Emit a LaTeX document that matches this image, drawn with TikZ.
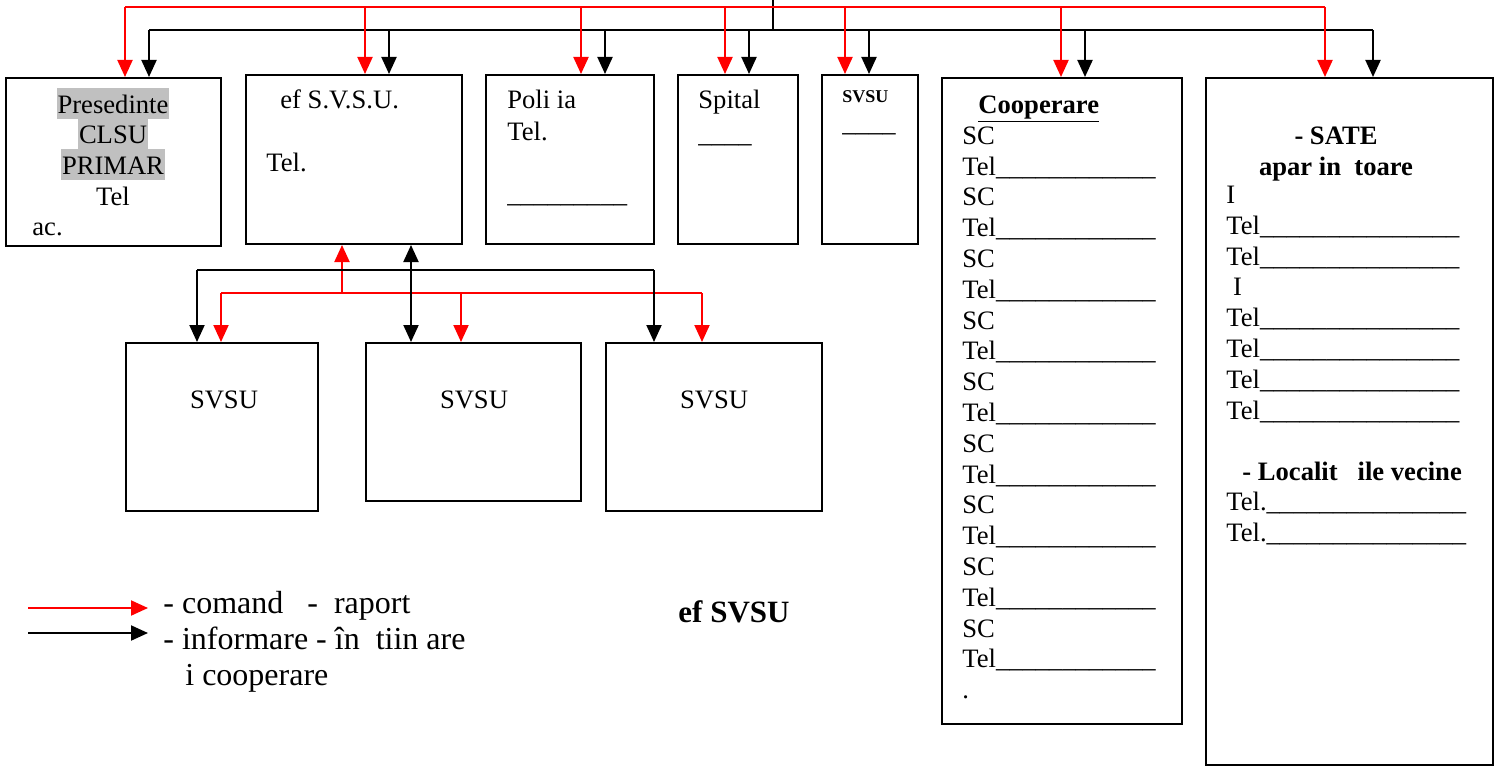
\documentclass[tikz,border=0pt]{standalone}
\usepackage{fontspec}
\setmainfont{Liberation Serif}
\usetikzlibrary{arrows.meta,positioning}
\definecolor{cmdred}{rgb}{1,0,0}
\definecolor{hlgray}{RGB}{192,192,192}

\tikzset{
  box/.style={draw, line width=1pt, inner sep=0pt, anchor=north west},
  wire/.style={line width=1pt},
  cmd/.style={wire, cmdred, -{Triangle[width=7.5pt,length=8.5pt]}},
  inf/.style={wire, black, -{Triangle[width=7.5pt,length=8.5pt]}},
  txt/.style={inner sep=0pt, anchor=base west, align=left, font=\fontsize{13.3}{15.4}\selectfont},
  list/.style={txt, anchor=north west},
  hl/.style={txt, anchor=base, fill=hlgray, inner xsep=0.5pt, text height=12.5pt, text depth=3pt},
}

\begin{document}
\begin{tikzpicture}[x=0.5pt, y=-0.5pt]
  \useasboundingbox (0,0) rectangle (1497,765);
  % top row of boxes
  \node[box, minimum width=107.5pt, minimum height=84pt] (pres) at (5,77) {};
  \node[box, minimum width=108pt, minimum height=84.5pt] (sef) at (245,74) {};
  \node[box, minimum width=84pt, minimum height=84.5pt] (pol) at (485,74) {};
  \node[box, minimum width=60pt, minimum height=84.5pt] (spit) at (677,74) {};
  \node[box, minimum width=48pt, minimum height=84.5pt] (svsu) at (821,74) {};
  \node[box, minimum width=120pt, minimum height=323pt] (coop) at (941,77) {};
  \node[box, minimum width=143.5pt, minimum height=343.5pt] (sate) at (1205,77) {};
  % lower row
  \node[box, minimum width=96pt, minimum height=84pt] (sa) at (125,342) {};
  \node[box, minimum width=107.5pt, minimum height=79pt] (sb) at (365,342) {};
  \node[box, minimum width=108pt, minimum height=84pt] (sc) at (605,342) {};

  % texts in the boxes
  \node[hl] (presa) at (113,113) {Presedinte};
  \node[hl] (presb) at (113,143.7) {CLSU};
  \node[hl] (presc) at (113,174.3) {PRIMAR};
  \node[txt, anchor=base] (presd) at (113,205) {Tel};
  \node[txt] (prese) at (32,235.5) {ac.};
  \node[txt] (sefa) at (280,109) {ef S.V.S.U.};
  \node[txt] (sefb) at (266,171) {Tel.};
  \node[txt] (pola) at (507,109) {Poli ia};
  \node[txt] (polb) at (507,140.5) {Tel.};
  \node[txt] (polc) at (507,202) {\_\_\_\_\_\_\_\_\_};
  \node[txt] (spita) at (698,109) {Spital};
  \node[txt] (spitb) at (698,142) {\_\_\_\_};
  \node[txt, font=\fontsize{9}{11}\selectfont\bfseries] (svsua) at (842,103) {SVSU};
  \node[txt] (svsub) at (842,131) {\_\_\_\_};
  \node[list] (coopt) at (962,91.44) {\strut\hspace*{8pt}\textbf{\underline{Cooperare}}\\
    SC\\Tel\_\_\_\_\_\_\_\_\_\_\_\_\\SC\\Tel\_\_\_\_\_\_\_\_\_\_\_\_\\
    SC\\Tel\_\_\_\_\_\_\_\_\_\_\_\_\\SC\\Tel\_\_\_\_\_\_\_\_\_\_\_\_\\
    SC\\Tel\_\_\_\_\_\_\_\_\_\_\_\_\\SC\\Tel\_\_\_\_\_\_\_\_\_\_\_\_\\
    SC\\Tel\_\_\_\_\_\_\_\_\_\_\_\_\\SC\\Tel\_\_\_\_\_\_\_\_\_\_\_\_\\
    SC\\Tel\_\_\_\_\_\_\_\_\_\_\_\_\\.};
  \node[list, align=center, anchor=north, font=\fontsize{13.3}{15.4}\selectfont\bfseries] (satea) at (1336,122.44) {\strut- SATE\\apar in\ \ toare};
  \node[list] (sateb) at (1226,181.44) {\strut I\\
    Tel\_\_\_\_\_\_\_\_\_\_\_\_\_\_\_\\Tel\_\_\_\_\_\_\_\_\_\_\_\_\_\_\_\\
    \ I\\
    Tel\_\_\_\_\_\_\_\_\_\_\_\_\_\_\_\\Tel\_\_\_\_\_\_\_\_\_\_\_\_\_\_\_\\
    Tel\_\_\_\_\_\_\_\_\_\_\_\_\_\_\_\\Tel\_\_\_\_\_\_\_\_\_\_\_\_\_\_\_};
  \node[txt, font=\fontsize{13.3}{15.4}\selectfont\bfseries] (satec) at (1242,480) {- Localit\ \ \ ile vecine};
  \node[list] (sated) at (1226,489) {\strut Tel.\_\_\_\_\_\_\_\_\_\_\_\_\_\_\_\\Tel.\_\_\_\_\_\_\_\_\_\_\_\_\_\_\_};
  \node[txt, anchor=base] (sat) at (224,408) {SVSU};
  \node[txt, anchor=base] (sbt) at (474,408) {SVSU};
  \node[txt, anchor=base] (sct) at (714,408) {SVSU};

  % informare (black) from the top
  \coordinate (b0) at (773,0);
  \coordinate (b1) at (149,30);
  \coordinate (b2) at (389,30);
  \coordinate (b3) at (605,30);
  \coordinate (b4) at (749,30);
  \coordinate (b5) at (869,30);
  \coordinate (b6) at (1085,30);
  \coordinate (b7) at (1373,30);
  \draw[wire] (b0) -- (b0 |- b1);
  \draw[wire] (b1) -- (b7);
  \draw[inf] (b1) -- (b1 |- pres.north);
  \draw[inf] (b2) -- (b2 |- sef.north);
  \draw[inf] (b3) -- (b3 |- pol.north);
  \draw[inf] (b4) -- (b4 |- spit.north);
  \draw[inf] (b5) -- (b5 |- svsu.north);
  \draw[inf] (b6) -- (b6 |- coop.north);
  \draw[inf] (b7) -- (b7 |- sate.north);
  % comanda (red) from the top
  \coordinate (r1) at (125,7);
  \coordinate (r2) at (365,7);
  \coordinate (r3) at (581,7);
  \coordinate (r4) at (725,7);
  \coordinate (r5) at (845,7);
  \coordinate (r6) at (1061,7);
  \coordinate (r7) at (1325,7);
  \draw[wire, cmdred] (r1) -- (r7);
  \draw[cmd] (r1) -- (r1 |- pres.north);
  \draw[cmd] (r2) -- (r2 |- sef.north);
  \draw[cmd] (r3) -- (r3 |- pol.north);
  \draw[cmd] (r4) -- (r4 |- spit.north);
  \draw[cmd] (r5) -- (r5 |- svsu.north);
  \draw[cmd] (r6) -- (r6 |- coop.north);
  \draw[cmd] (r7) -- (r7 |- sate.north);

  % S.V.S.U. down to the three SVSU
  \coordinate (q0) at (342,293);
  \coordinate (q1) at (221,293);
  \coordinate (q2) at (461,293);
  \coordinate (q3) at (702,293);
  \draw[wire, cmdred] (q1) -- (q3);
  \draw[cmd] (q0) -- (q0 |- sef.south);
  \draw[cmd] (q1) -- (q1 |- sa.north);
  \draw[cmd] (q2) -- (q2 |- sb.north);
  \draw[cmd] (q3) -- (q3 |- sc.north);
  \coordinate (k1) at (197,270);
  \coordinate (k2) at (411,270);
  \coordinate (k3) at (654,270);
  \draw[wire] (k1) -- (k3);
  \draw[inf] (k1) -- (k1 |- sa.north);
  \draw[inf] (k3) -- (k3 |- sc.north);
  \draw[inf, {Triangle[width=7.5pt,length=8.5pt]}-{Triangle[width=7.5pt,length=8.5pt]}] (k2 |- sef.south) -- (k2 |- sb.north);

  % legend
  \coordinate (lr1) at (28,608);
  \coordinate (lr2) at (148,608);
  \coordinate (lb1) at (28,633);
  \coordinate (lb2) at (148,633);
  \draw[cmd] (lr1) -- (lr2);
  \draw[inf] (lb1) -- (lb2);
  \node[list, font=\fontsize{16}{18}\selectfont] (leg) at (163,587.8) {\strut- comand\ \ \ -\ \ raport\\- informare - în\ \ tiin are\\\hspace*{11pt}i cooperare};
  \node[txt, anchor=base, font=\fontsize{15.5}{18}\selectfont\bfseries] (semn) at (734,622) {ef SVSU};
\end{tikzpicture}
\end{document}
